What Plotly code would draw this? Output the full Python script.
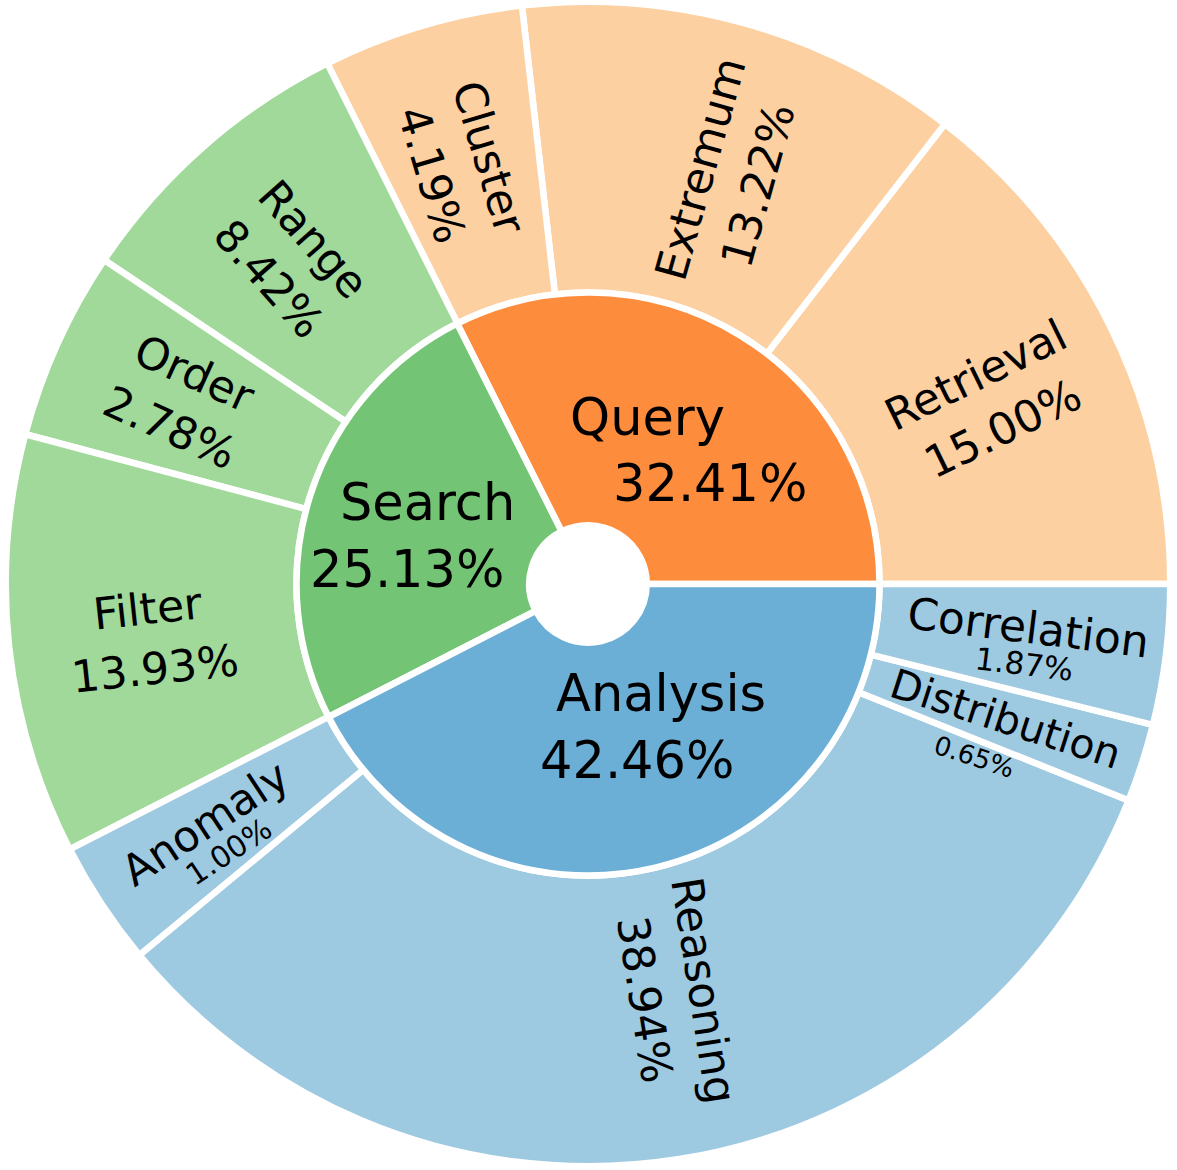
import math
import plotly.graph_objects as go

# ---------------- data ----------------
groups = ["Query", "Search", "Analysis"]
group_pct = [32.41, 25.13, 42.46]

subs = ["Retrieval", "Extremum", "Cluster",
        "Range", "Order", "Filter",
        "Anomaly", "Reasoning", "Distribution", "Correlation"]
sub_group = ["Query", "Query", "Query",
             "Search", "Search", "Search",
             "Analysis", "Analysis", "Analysis", "Analysis"]
# percentages printed on the chart
sub_pct = [15.00, 13.22, 4.19, 8.42, 2.78, 13.93, 1.00, 38.94, 0.65, 1.87]
# wedge sizes as drawn in the picture (small slices are enlarged for legibility)
sub_drawn = [14.50, 12.31, 5.58, 8.22, 5.25, 11.67, 3.47, 32.94, 2.17, 3.89]

# ---------------- style ----------------
W, H = 1177, 1170
CX, CY = 588, 584            # pixel centre of the chart
R_OUT = 579                  # visible outer radius
R_MID = 291.5                # boundary between rings
R_HOLE = 62                  # visible hole radius
LW = 6.5                     # white separator width

inner_colors = {"Query": "#fd8d3c", "Search": "#74c476", "Analysis": "#6baed6"}
outer_colors = {"Query": "#fdd0a2", "Search": "#a1d99b", "Analysis": "#9ecae1"}

FONT = "DejaVu Sans"
inner_fs = 51
sub_name_fs = [44, 44, 44, 44, 44, 44, 43, 44, 41, 44]
sub_pct_fs = [44, 44, 44, 44, 44, 44, 30, 44, 26, 31]
# label placement nudges (angle offset in degrees, radius in px, line gap in px,
# shift of the percentage line along the baseline in px)
lab_dphi = [-1.7, -3.5, 0.4, 1.0, 0.0, 1.0, 1.0, 3.0, -3.0, -1.0]
lab_r = [441, 431, 437, 440, 445, 440, 451, 420, 439, 443]
lab_gap = [60, 60, 60, 60, 60, 60, 36, 60, 45, 37]
lab_shift = [0, 0, 0, 0, 0, 0, 4, 0, -17, 0]
# inner labels: block shift (dx, dy) and horizontal offset of the two lines
inner_shift = {"Query": (4, 7), "Search": (-14, 3), "Analysis": (22, -17)}
inner_dx = {"Query": (-31, 31), "Search": (10, -10), "Analysis": (12, -12)}


def px2paper(px, py):
    return px / W, 1 - py / H


def domain(r):
    x0, y1 = px2paper(CX - r, CY - r)
    x1, y0 = px2paper(CX + r, CY + r)
    return dict(x=[max(x0, 0), min(x1, 1)], y=[max(y0, 0), min(y1, 1)])


def ccw_rotation(values):
    # plotly puts the first counter-clockwise slice just clockwise of the
    # rotation anchor; shift the anchor so the first slice starts at 3 o'clock
    return 90 - values[0] / sum(values) * 360


fig = go.Figure()

r_o = R_OUT + LW / 2
fig.add_trace(go.Pie(
    labels=subs, values=sub_drawn, sort=False, direction="counterclockwise",
    rotation=ccw_rotation(sub_drawn), hole=R_MID / r_o, domain=domain(r_o),
    marker=dict(colors=[outer_colors[g] for g in sub_group],
                line=dict(color="white", width=LW)),
    textinfo="none", hoverinfo="label+text", text=[f"{v:.2f}%" for v in sub_pct],
    showlegend=False,
))

r_i = R_MID
fig.add_trace(go.Pie(
    labels=groups, values=group_pct, sort=False, direction="counterclockwise",
    rotation=ccw_rotation(group_pct), hole=(R_HOLE - LW / 2) / r_i, domain=domain(r_i),
    marker=dict(colors=[inner_colors[g] for g in groups],
                line=dict(color="white", width=LW)),
    textinfo="none", hoverinfo="label+percent",
    showlegend=False,
))

annotations = []


def add_text(px, py, text, size, angle):
    x, y = px2paper(px, py)
    annotations.append(dict(
        x=x, y=y, xref="paper", yref="paper",
        text=text, showarrow=False, textangle=-angle,
        xanchor="center", yanchor="middle",
        font=dict(family=FONT, size=size, color="black"),
    ))


# outer labels
start = 0.0
total = sum(sub_drawn)
for i, (name, pct, drawn) in enumerate(zip(subs, sub_pct, sub_drawn)):
    span = drawn / total * 360
    phi = start + span / 2
    start += span
    theta = phi
    while theta > 90:
        theta -= 180
    while theta <= -90:
        theta += 180
    pphi = math.radians(phi + lab_dphi[i])
    bx = CX + lab_r[i] * math.cos(pphi)
    by = CY - lab_r[i] * math.sin(pphi)
    t = math.radians(theta)
    ux, uy = -math.sin(t), -math.cos(t)      # text "up" (screen coords)
    vx, vy = math.cos(t), -math.sin(t)       # text baseline direction
    d = lab_gap[i]
    s = lab_shift[i]
    add_text(bx + ux * d / 2, by + uy * d / 2, name, sub_name_fs[i], theta)
    add_text(bx - ux * d / 2 + vx * s, by - uy * d / 2 + vy * s,
             f"{pct:.2f}%", sub_pct_fs[i], theta)

# inner labels
start = 0.0
for g, pct in zip(groups, group_pct):
    span = pct / sum(group_pct) * 360
    phi = start + span / 2
    start += span
    r = 165
    sx, sy = inner_shift[g]
    bx = CX + r * math.cos(math.radians(phi)) + sx
    by = CY - r * math.sin(math.radians(phi)) + sy
    d = 1.31 * inner_fs
    dx1, dx2 = inner_dx[g]
    add_text(bx + dx1, by - d / 2, g, inner_fs, 0)
    add_text(bx + dx2, by + d / 2, f"{pct:.2f}%", inner_fs, 0)

fig.update_layout(
    width=W, height=H,
    margin=dict(l=0, r=0, t=0, b=0),
    paper_bgcolor="white", plot_bgcolor="white",
    annotations=annotations,
    font=dict(family=FONT),
)

fig.write_html("out.html", config={"displayModeBar": False},
               post_script="document.body.style.margin='0px';")
